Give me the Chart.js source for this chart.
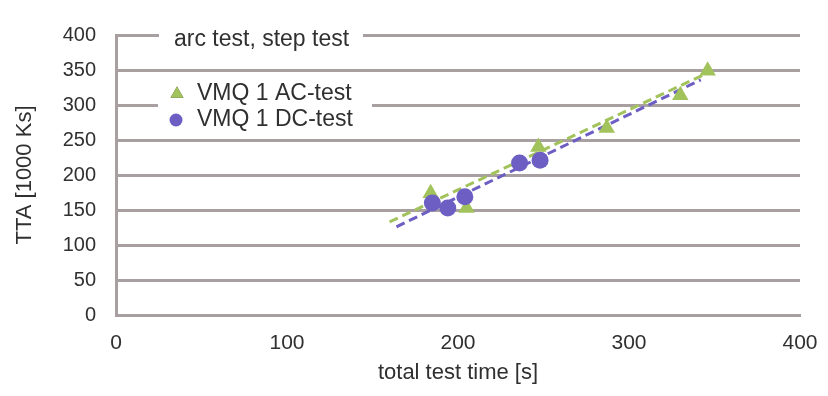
<!DOCTYPE html>
<html>
<head>
<meta charset="utf-8">
<script src="https://cdn.jsdelivr.net/npm/chart.js@4/dist/chart.umd.min.js"></script>
<style>
  html, body { margin: 0; padding: 0; background: #fff; }
  #wrap { width: 828px; height: 396px; }
</style>
</head>
<body>
<div id="wrap"><canvas id="ttaChart" width="828" height="396"></canvas></div>
<script>
// measured values, total test time [s] vs TTA [1000 Ks]
const acTime = [184, 205, 247, 287, 330, 346];
const acTTA = [174, 153, 240, 267, 314, 349];
const dcTime = [185, 194, 204, 236, 248];
const dcTTA = [160, 153, 169, 217, 221];

// trend line end points
const acTrendTime = [160, 347];
const acTrendTTA = [133, 347];
const dcTrendTime = [164, 342];
const dcTrendTTA = [126, 336];

const legendTitle = 'arc test, step test';
const acLabel = 'VMQ 1 AC-test';
const dcLabel = 'VMQ 1 DC-test';
const xTitle = 'total test time [s]';
const yTitle = 'TTA [1000 Ks]';

const green = '#a2c35c';
const purple = '#6c5ec3';
const gridGrey = '#a8a0a0';
const textColor = '#303030';
const fontFamily = '"Liberation Sans", Arial, sans-serif';

const toPoints = (xs, ys) => xs.map((x, i) => ({ x: x, y: ys[i] }));

// legend drawn inside the plot, with a white backing like the original
const innerLegend = {
    id: 'innerLegend',
    afterDraw(chart) {
        const ctx = chart.ctx;
        ctx.save();
        ctx.fillStyle = '#fff';
        ctx.fillRect(159, 27, 204, 24);
        ctx.fillRect(158, 78, 214, 54);

        ctx.font = '23px ' + fontFamily;
        ctx.fillStyle = textColor;
        ctx.textBaseline = 'middle';
        ctx.textAlign = 'left';
        ctx.fillText(legendTitle, 174, 40);
        ctx.fillText(acLabel, 197, 94);
        ctx.fillText(dcLabel, 197, 120);

        Chart.helpers.drawPoint(ctx, { pointStyle: 'triangle', radius: 7.5, rotation: 0, borderWidth: 0 }, 177, 94);
        ctx.fillStyle = green;
        ctx.fill();
        ctx.beginPath();
        ctx.arc(176, 120, 6.5, 0, Math.PI * 2);
        ctx.fillStyle = purple;
        ctx.fill();
        ctx.restore();
    }
};

const ctx = document.getElementById('ttaChart').getContext('2d');
new Chart(ctx, {
    type: 'scatter',
    data: {
        datasets: [
            {
                label: dcLabel,
                data: toPoints(dcTime, dcTTA),
                pointStyle: 'circle',
                pointRadius: 8.5,
                backgroundColor: purple,
                borderColor: purple,
                borderWidth: 0,
                order: 1
            },
            {
                label: acLabel,
                data: toPoints(acTime, acTTA),
                pointStyle: 'triangle',
                pointRadius: 9.5,
                backgroundColor: green,
                borderColor: green,
                borderWidth: 0,
                order: 2
            },
            {
                label: 'AC trend',
                data: toPoints(acTrendTime, acTrendTTA),
                showLine: true,
                pointRadius: 0,
                borderColor: green,
                borderWidth: 3,
                borderDash: [9, 5],
                order: 4
            },
            {
                label: 'DC trend',
                data: toPoints(dcTrendTime, dcTrendTTA),
                showLine: true,
                pointRadius: 0,
                borderColor: purple,
                borderWidth: 3,
                borderDash: [9, 5],
                order: 3
            }
        ]
    },
    options: {
        responsive: false,
        animation: false,
        layout: { padding: { top: 35, right: 28, left: 0, bottom: 0 } },
        plugins: {
            legend: { display: false },
            tooltip: { enabled: false }
        },
        scales: {
            x: {
                min: 0,
                max: 400,
                ticks: {
                    stepSize: 100,
                    color: textColor,
                    padding: 16,
                    font: { family: fontFamily, size: 21 }
                },
                grid: { display: false, drawTicks: false },
                border: { display: true, color: gridGrey, width: 3 },
                title: {
                    display: true,
                    text: xTitle,
                    color: textColor,
                    padding: { top: 0, bottom: 10 },
                    font: { family: fontFamily, size: 22 }
                },
                afterFit(scale) {
                    scale.height = 81;
                    scale.paddingLeft = 0;
                    scale.paddingRight = 0;
                }
            },
            y: {
                min: 0,
                max: 400,
                ticks: {
                    stepSize: 50,
                    color: textColor,
                    padding: 20,
                    font: { family: fontFamily, size: 20 }
                },
                grid: { color: gridGrey, lineWidth: 3, drawTicks: false },
                border: { display: true, color: gridGrey, width: 3 },
                title: {
                    display: true,
                    text: yTitle,
                    color: textColor,
                    padding: { top: 12, bottom: 0 },
                    font: { family: fontFamily, size: 22 }
                },
                afterFit(scale) { scale.width = 116; }
            }
        }
    },
    plugins: [innerLegend]
});
</script>
</body>
</html>
